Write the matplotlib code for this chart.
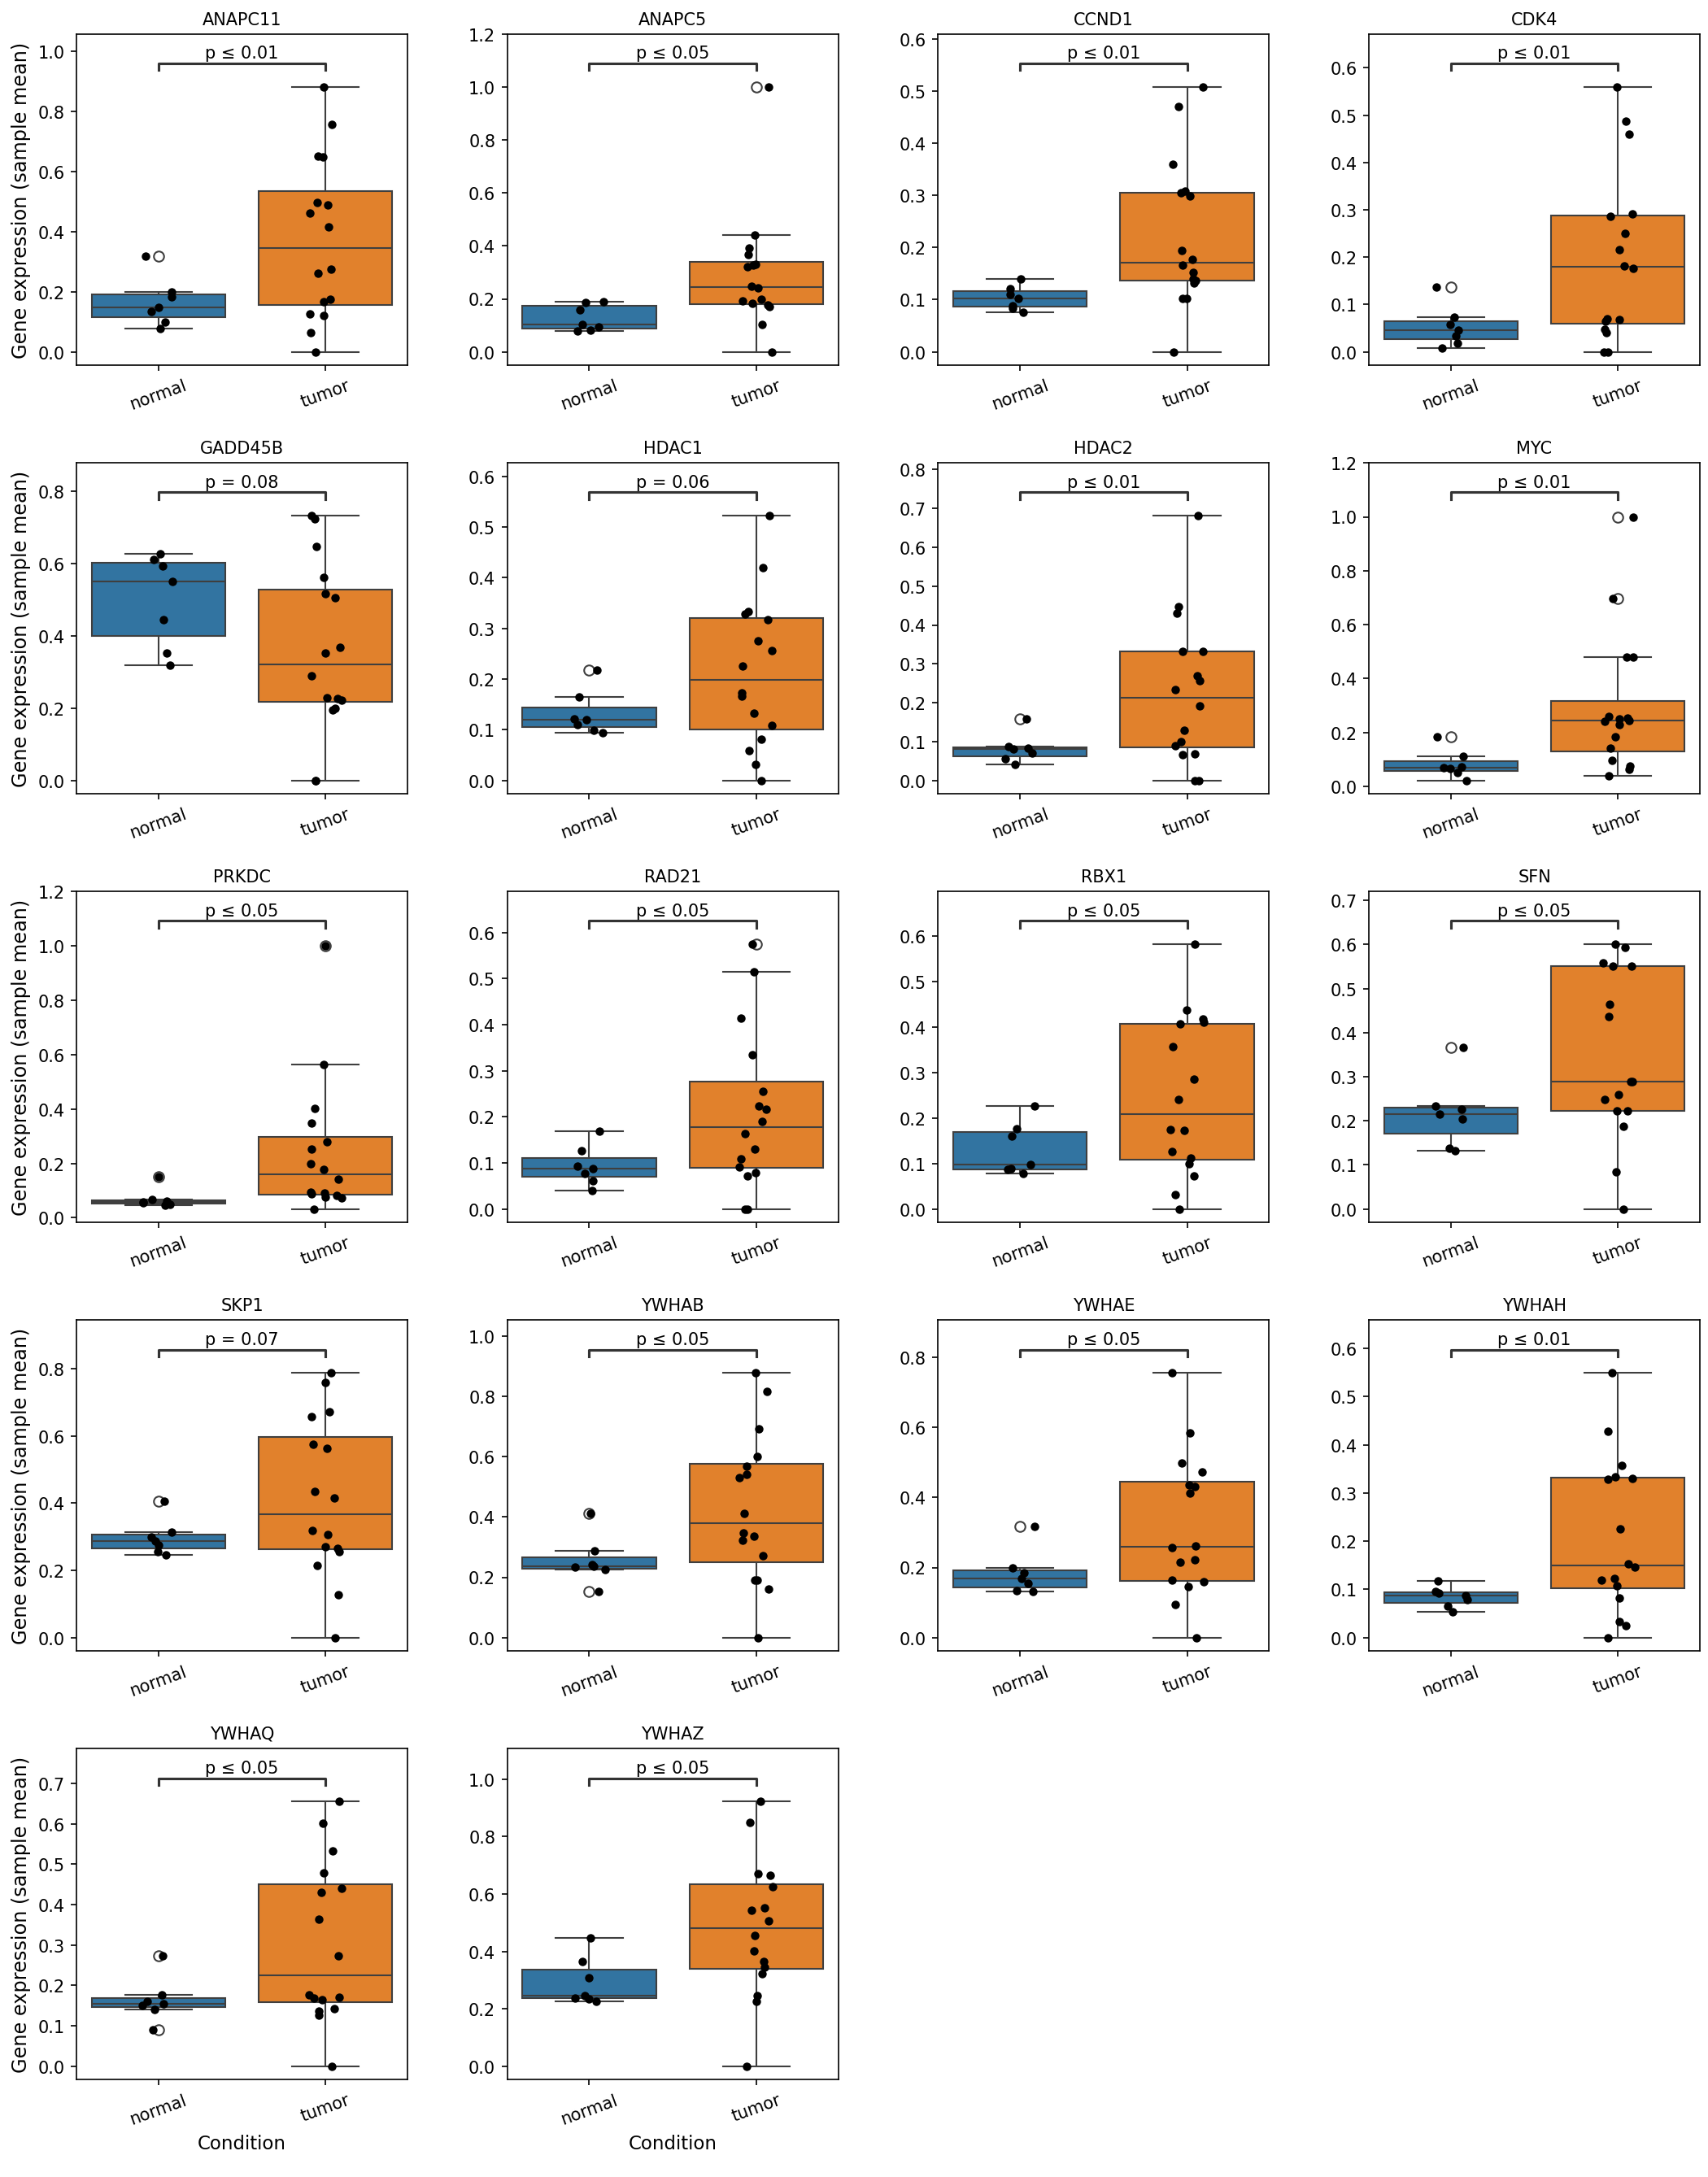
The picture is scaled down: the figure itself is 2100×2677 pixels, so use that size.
import numpy as np
import pandas as pd
import matplotlib
matplotlib.use('Agg')
import matplotlib.pyplot as plt
import seaborn as sns

# ---------------------------------------------------------
# data
# ---------------------------------------------------------
genes = ['ANAPC11', 'ANAPC5', 'CCND1', 'CDK4', 'GADD45B', 'HDAC1',
         'HDAC2', 'MYC', 'PRKDC', 'RAD21', 'RBX1', 'SFN',
         'SKP1', 'YWHAB', 'YWHAE', 'YWHAH', 'YWHAQ', 'YWHAZ']

p_labels = ['p ≤ 0.01', 'p ≤ 0.05', 'p ≤ 0.01', 'p ≤ 0.01', 'p = 0.08', 'p = 0.06',
            'p ≤ 0.01', 'p ≤ 0.01', 'p ≤ 0.05', 'p ≤ 0.05', 'p ≤ 0.05', 'p ≤ 0.05',
            'p = 0.07', 'p ≤ 0.05', 'p ≤ 0.05', 'p ≤ 0.01', 'p ≤ 0.05', 'p ≤ 0.05']

conditions = ['normal', 'tumor']

normal_vals = [
    [0.076, 0.099, 0.133, 0.148, 0.184, 0.200, 0.317],   # ANAPC11
    [0.078, 0.083, 0.095, 0.102, 0.160, 0.185, 0.188],   # ANAPC5
    [0.075, 0.084, 0.088, 0.102, 0.110, 0.121, 0.140],   # CCND1
    [0.007, 0.019, 0.034, 0.045, 0.057, 0.073, 0.137],   # CDK4
    [0.318, 0.353, 0.443, 0.549, 0.592, 0.610, 0.627],   # GADD45B
    [0.094, 0.099, 0.110, 0.120, 0.121, 0.165, 0.217],   # HDAC1
    [0.042, 0.055, 0.071, 0.080, 0.083, 0.087, 0.159],   # HDAC2
    [0.022, 0.050, 0.066, 0.068, 0.073, 0.111, 0.184],   # MYC
    [0.045, 0.050, 0.055, 0.059, 0.062, 0.068, 0.152],   # PRKDC
    [0.040, 0.062, 0.077, 0.087, 0.093, 0.127, 0.168],   # RAD21
    [0.078, 0.087, 0.088, 0.097, 0.161, 0.176, 0.227],   # RBX1
    [0.132, 0.137, 0.205, 0.216, 0.227, 0.233, 0.367],   # SFN
    [0.247, 0.255, 0.274, 0.287, 0.299, 0.314, 0.406],   # SKP1
    [0.154, 0.225, 0.234, 0.237, 0.241, 0.289, 0.413],   # YWHAB
    [0.131, 0.134, 0.154, 0.168, 0.184, 0.200, 0.318],   # YWHAE
    [0.053, 0.066, 0.078, 0.088, 0.093, 0.096, 0.117],   # YWHAH
    [0.090, 0.141, 0.151, 0.155, 0.160, 0.176, 0.273],   # YWHAQ
    [0.225, 0.235, 0.237, 0.247, 0.309, 0.366, 0.447],   # YWHAZ
]

tumor_vals = [
    [0.0, 0.063, 0.121, 0.125, 0.166, 0.175, 0.260, 0.274, 0.415, 0.462, 0.489, 0.496, 0.648, 0.652, 0.755, 0.880],
    [0.0, 0.102, 0.170, 0.177, 0.182, 0.191, 0.198, 0.242, 0.247, 0.320, 0.327, 0.332, 0.366, 0.392, 0.440, 1.000],
    [0.0, 0.102, 0.102, 0.132, 0.137, 0.140, 0.152, 0.166, 0.177, 0.194, 0.299, 0.304, 0.308, 0.359, 0.470, 0.507],
    [0.0, 0.0, 0.040, 0.047, 0.064, 0.068, 0.070, 0.176, 0.182, 0.215, 0.250, 0.287, 0.291, 0.460, 0.488, 0.559],
    [0.0, 0.0, 0.195, 0.199, 0.222, 0.225, 0.229, 0.289, 0.353, 0.367, 0.504, 0.516, 0.561, 0.647, 0.722, 0.731],
    [0.0, 0.032, 0.058, 0.081, 0.108, 0.133, 0.166, 0.172, 0.226, 0.256, 0.276, 0.317, 0.329, 0.333, 0.419, 0.522],
    [0.0, 0.0, 0.066, 0.069, 0.090, 0.100, 0.130, 0.192, 0.234, 0.256, 0.270, 0.333, 0.333, 0.431, 0.447, 0.681],
    [0.040, 0.063, 0.074, 0.096, 0.141, 0.184, 0.228, 0.242, 0.245, 0.249, 0.252, 0.260, 0.481, 0.481, 0.698, 1.000],
    [0.032, 0.072, 0.077, 0.083, 0.087, 0.092, 0.095, 0.143, 0.177, 0.198, 0.252, 0.280, 0.347, 0.402, 0.563, 1.000],
    [0.0, 0.0, 0.072, 0.079, 0.092, 0.108, 0.130, 0.164, 0.190, 0.216, 0.223, 0.256, 0.335, 0.414, 0.515, 0.574],
    [0.0, 0.032, 0.072, 0.100, 0.112, 0.127, 0.173, 0.175, 0.241, 0.285, 0.358, 0.407, 0.411, 0.418, 0.438, 0.582],
    [0.0, 0.085, 0.187, 0.222, 0.223, 0.248, 0.260, 0.289, 0.289, 0.437, 0.464, 0.550, 0.550, 0.558, 0.593, 0.600],
    [0.0, 0.128, 0.214, 0.255, 0.266, 0.270, 0.306, 0.318, 0.416, 0.435, 0.562, 0.575, 0.658, 0.673, 0.759, 0.787],
    [0.0, 0.161, 0.191, 0.191, 0.271, 0.323, 0.335, 0.347, 0.413, 0.529, 0.542, 0.569, 0.600, 0.691, 0.817, 0.877],
    [0.0, 0.095, 0.146, 0.160, 0.163, 0.215, 0.222, 0.257, 0.262, 0.413, 0.432, 0.436, 0.473, 0.498, 0.585, 0.755],
    [0.0, 0.025, 0.033, 0.083, 0.108, 0.120, 0.122, 0.146, 0.153, 0.226, 0.328, 0.331, 0.334, 0.358, 0.428, 0.549],
    [0.0, 0.127, 0.137, 0.143, 0.165, 0.169, 0.171, 0.176, 0.273, 0.363, 0.431, 0.441, 0.478, 0.534, 0.601, 0.655],
    [0.0, 0.225, 0.247, 0.323, 0.344, 0.366, 0.402, 0.456, 0.506, 0.543, 0.551, 0.625, 0.666, 0.671, 0.850, 0.922],
]

# ---------------------------------------------------------
# figure
# ---------------------------------------------------------
np.random.seed(3)
fig, axes = plt.subplots(5, 4, figsize=(14, 17.853))
fig.subplots_adjust(left=0.0448, right=0.9952, top=0.9839, bottom=0.0448,
                    wspace=0.302, hspace=0.296)

for i, gene in enumerate(genes):
    ax = axes[i // 4, i % 4]
    norm, tum = normal_vals[i], tumor_vals[i]
    df = pd.DataFrame({
        'Condition': ['normal'] * len(norm) + ['tumor'] * len(tum),
        'value': norm + tum,
    })

    sns.boxplot(data=df, x='Condition', y='value', hue='Condition', order=conditions,
                hue_order=conditions, palette=['#1f77b4', '#ff7f0e'], legend=False,
                flierprops=dict(marker='o', markerfacecolor='none', markersize=6),
                ax=ax)
    sns.stripplot(data=df, x='Condition', y='value', order=conditions,
                  color='black', jitter=0.1, size=5, ax=ax)

    vmin, vmax = min(df['value']), max(df['value'])
    ax.set_ylim(vmin - 0.05 * (vmax - vmin), 1.2 * vmax)

    # significance bracket
    trans = ax.get_xaxis_transform()
    ax.plot([0, 0, 1, 1], [0.891, 0.911, 0.911, 0.891], transform=trans,
            color='#333333', lw=1.5, clip_on=False)
    ax.text(0.5, 0.918, p_labels[i], transform=trans, ha='center', va='bottom',
            fontsize=10)

    ax.set_title(gene, fontsize=10)
    ax.tick_params(axis='x', rotation=20, labelsize=10)
    ax.tick_params(axis='y', labelsize=10)
    ax.set_ylabel('Gene expression (sample mean)' if i % 4 == 0 else '', fontsize=11.5)
    ax.set_xlabel('Condition' if i >= 16 else '', fontsize=11)

for j in range(len(genes), 20):
    axes[j // 4, j % 4].remove()

plt.savefig('out.png', dpi=150)
